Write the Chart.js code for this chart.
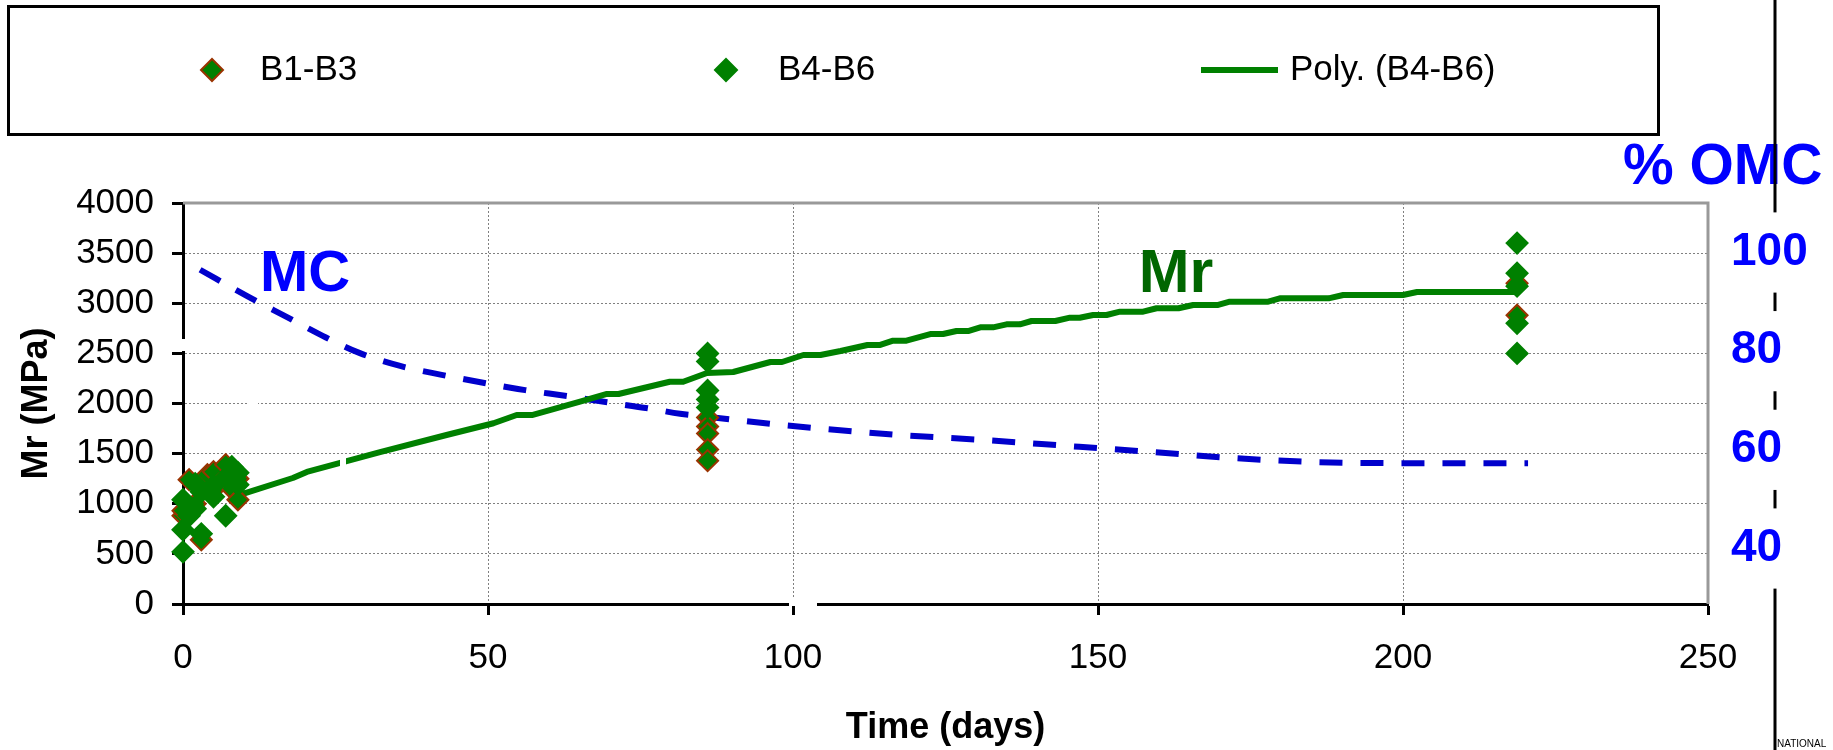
<!DOCTYPE html>
<html><head><meta charset="utf-8">
<script src="https://cdn.jsdelivr.net/npm/chart.js@4"></script>
<style>html,body{margin:0;padding:0;background:#fff}#wrap{width:1833px;height:750px}</style>
</head><body><div id="wrap"><canvas id="c" width="1833" height="750"></canvas></div>
<script>
// ---- data ----
const seriesNames = ['B1-B3', 'B4-B6', 'Poly. (B4-B6)', 'MC'];
const b13Days = [0, 0, 1, 2, 3, 3, 4, 5, 6, 7, 8, 9, 9, 86, 86, 86, 86, 86, 218.7, 218.7];
const b13Mr   = [880, 930, 1240, 1000, 640, 1180, 1290, 1320, 1200, 1390, 1150, 1040, 1250, 1860, 1770, 1700, 1540, 1430, 3200, 2880];
const b46Days = [0, 0, 0, 1, 2, 2, 3, 3, 5, 5, 7, 7, 8, 8, 9, 9, 86, 86, 86, 86, 86, 218.7, 218.7, 218.7, 218.7, 218.7];
const b46Mr   = [520, 740, 1040, 880, 1200, 950, 700, 1120, 1070, 1180, 880, 1260, 1370, 1240, 1190, 1310, 2500, 2420, 2130, 2040, 1960, 3600, 3300, 3170, 2800, 2500];
const polyDays = [9, 10.2, 18.0, 20.3, 32.3, 43.2, 50.9, 54.7, 57.2, 65.1, 69.5, 71.4, 79.8, 82.0, 85.9, 90.2, 96.3, 98.2, 101.7, 104.5, 107.8, 112.2, 114.3, 116.4, 118.6, 122.5, 124.6, 126.8, 128.7, 130.7, 132.8, 135.0, 137.2, 139.1, 143.0, 145.4, 147.0, 149.2, 151.4, 153.6, 157.4, 159.6, 163.2, 165.6, 169.7, 171.6, 177.9, 179.8, 187.8, 190.2, 200.0, 202.3, 218.7];
const polyMr   = [1090, 1107, 1257, 1317, 1515, 1686, 1803, 1885, 1885, 2018, 2095, 2095, 2217, 2217, 2304, 2314, 2414, 2414, 2484, 2484, 2524, 2584, 2584, 2627, 2627, 2693, 2693, 2723, 2723, 2760, 2760, 2790, 2790, 2823, 2823, 2856, 2856, 2883, 2883, 2916, 2916, 2950, 2950, 2983, 2983, 3016, 3016, 3049, 3049, 3082, 3082, 3112, 3112];
const mcDays = [2.8, 10.6, 16.9, 22.9, 29.0, 35.6, 42.4, 49.2, 56.1, 62.9, 69.7, 76.3, 81.5, 85.9, 98.4, 117.5, 131.2, 144.9, 158.5, 172.5, 186.1, 200, 220.5];
const mcOMC  = [96.4, 91.0, 86.9, 83.0, 79.5, 76.9, 75.1, 73.5, 72.0, 70.8, 69.5, 68.3, 67.2, 66.6, 64.9, 62.9, 61.9, 60.7, 59.5, 58.2, 57.4, 57.2, 57.2];
const xTicks = [0, 50, 100, 150, 200, 250];
const yTicks = [0, 500, 1000, 1500, 2000, 2500, 3000, 3500, 4000];
const omcTicks = [40, 60, 80, 100];
const xTitle = 'Time (days)';
const yTitle = 'Mr (MPa)';
const omcTitle = '% OMC';
const mcLabel = 'MC';
const mrLabel = 'Mr';

// ---- chart ----
const FONT = "'Liberation Sans', Arial, sans-serif";
const GREEN = '#008000', BROWN = '#993300', BLUE = '#0000FF', DBLUE = '#0000CC';
const pts = (xs, ys) => xs.map((x, i) => ({x: x, y: ys[i]}));

const overlay = {
  id: 'overlay',
  beforeDraw(chart) {
    const ctx = chart.ctx;
    ctx.save();
    ctx.fillStyle = '#fff';
    ctx.fillRect(0, 0, chart.width, chart.height);
    // % OMC title
    ctx.fillStyle = BLUE;
    ctx.font = 'bold 57px ' + FONT;
    ctx.textAlign = 'left';
    ctx.textBaseline = 'middle';
    ctx.fillText(omcTitle, 1623, 168);
    // secondary axis line
    ctx.strokeStyle = '#000';
    ctx.lineWidth = 3;
    ctx.beginPath(); ctx.moveTo(1775, 0); ctx.lineTo(1775, 750); ctx.stroke();
    // legend box
    ctx.lineWidth = 3;
    ctx.strokeRect(8.5, 6.5, 1650, 128);
    const ds = chart.data.datasets;
    const ly = 70;
    const items = [{mx: 212, tx: 260, d: ds[0]}, {mx: 726, tx: 778, d: ds[1]}];
    ctx.font = '35px ' + FONT;
    for (const it of items) {
      const r = it.d.pointRadius + 0.5;
      ctx.beginPath();
      ctx.moveTo(it.mx - r, ly); ctx.lineTo(it.mx, ly - r); ctx.lineTo(it.mx + r, ly); ctx.lineTo(it.mx, ly + r); ctx.closePath();
      ctx.fillStyle = it.d.pointBackgroundColor; ctx.fill();
      ctx.lineWidth = it.d.pointBorderWidth; ctx.strokeStyle = it.d.pointBorderColor; ctx.stroke();
      ctx.fillStyle = '#000';
      ctx.fillText(it.d.label, it.tx, ly);
    }
    ctx.strokeStyle = ds[2].borderColor; ctx.lineWidth = ds[2].borderWidth;
    ctx.beginPath(); ctx.moveTo(1201, ly); ctx.lineTo(1278, ly); ctx.stroke();
    ctx.fillStyle = '#000';
    ctx.fillText(ds[2].label, 1290, ly);
    // stray caption at bottom right
    ctx.font = '10px ' + FONT;
    ctx.fillText('NATIONAL', 1777, 744);
    ctx.restore();
  },
  beforeDatasetsDraw(chart) {
    const ctx = chart.ctx, a = chart.chartArea;
    ctx.save();
    ctx.strokeStyle = '#999';
    ctx.lineWidth = 3;
    ctx.beginPath();
    ctx.moveTo(a.left, a.top); ctx.lineTo(a.right, a.top); ctx.lineTo(a.right, a.bottom);
    ctx.stroke();
    ctx.restore();
  },
  afterDatasetsDraw(chart) {
    const ctx = chart.ctx;
    ctx.save();
    // small white erasures present in the source figure
    ctx.fillStyle = '#fff';
    ctx.fillRect(179, 339, 9, 12);
    ctx.fillRect(248, 399, 10, 6);
    ctx.fillRect(340, 456, 6, 13);
    ctx.fillRect(789, 598, 28, 8);
    ctx.textAlign = 'center';
    ctx.textBaseline = 'middle';
    ctx.font = 'bold 58px ' + FONT;
    ctx.fillStyle = BLUE;
    ctx.fillText(mcLabel, 305, 275);
    ctx.fillStyle = '#006600';
    ctx.font = 'bold 61px ' + FONT;
    ctx.fillText(mrLabel, 1176, 275);
    ctx.restore();
  }
};

const gridCommon = {
  color: '#808080', lineWidth: 1, tickLength: 11, tickWidth: 3, tickColor: '#000', tickBorderDash: []
};
const plain = v => String(v);

new Chart(document.getElementById('c'), {
  type: 'scatter',
  data: {
    datasets: [
      {label: seriesNames[0], data: pts(b13Days, b13Mr), pointStyle: 'rectRot', pointRadius: 10.5, pointHoverRadius: 10.5,
       pointBackgroundColor: GREEN, pointBorderColor: BROWN, pointBorderWidth: 2, clip: false, order: 2},
      {label: seriesNames[1], data: pts(b46Days, b46Mr), pointStyle: 'rectRot', pointRadius: 10.5, pointHoverRadius: 10.5,
       pointBackgroundColor: GREEN, pointBorderColor: GREEN, pointBorderWidth: 2, clip: false, order: 1},
      {label: seriesNames[2], data: pts(polyDays, polyMr), showLine: true, borderColor: GREEN, borderWidth: 6,
       pointRadius: 0, tension: 0, borderJoinStyle: 'round', order: 3},
      {label: seriesNames[3], data: pts(mcDays, mcOMC), yAxisID: 'y2', showLine: true, borderColor: DBLUE, borderWidth: 6,
       borderDash: [23, 18], borderCapStyle: 'butt', pointRadius: 0, cubicInterpolationMode: 'monotone', order: 4}
    ]
  },
  options: {
    responsive: false, animation: false, devicePixelRatio: 1,
    layout: {padding: {top: 203, left: 0, right: 0, bottom: 0}},
    plugins: {legend: {display: false}, tooltip: {enabled: false}},
    scales: {
      x: {
        type: 'linear', position: 'bottom', min: 0, max: 250,
        afterBuildTicks: s => { s.ticks = xTicks.map(v => ({value: v})); },
        grid: gridCommon,
        border: {display: true, color: '#000', width: 3, dash: [2, 2]},
        ticks: {font: {family: FONT, size: 35}, color: '#000', padding: 22, maxRotation: 0, callback: plain},
        title: {display: true, text: xTitle, color: '#000', font: {family: FONT, size: 36, weight: 'bold'}, padding: {top: 0, bottom: 0}},
        afterFit: s => { s.height = 146; }
      },
      y: {
        type: 'linear', position: 'left', min: 0, max: 4000,
        afterBuildTicks: s => { s.ticks = yTicks.map(v => ({value: v})); },
        grid: gridCommon,
        border: {display: true, color: '#000', width: 3, dash: [2, 2]},
        ticks: {font: {family: FONT, size: 35}, color: '#000', padding: 18, callback: plain},
        title: {display: true, text: yTitle, color: '#000', font: {family: FONT, size: 36, weight: 'bold'}, padding: {top: 15, bottom: 0}},
        afterFit: s => { s.width = 183; }
      },
      y2: {
        type: 'linear', position: 'right', min: 28.65, max: 109.93,
        afterBuildTicks: s => { s.ticks = omcTicks.map(v => ({value: v})); },
        grid: {display: false, drawTicks: false, drawOnChartArea: false},
        border: {display: false},
        ticks: {font: {family: FONT, size: 46, weight: 'bold'}, color: BLUE, padding: 23, callback: plain,
                showLabelBackdrop: true, backdropColor: '#fff', backdropPadding: {top: 12, bottom: 13, left: 0, right: 2}},
        afterFit: s => { s.width = 125; }
      }
    }
  },
  plugins: [overlay]
});
</script>
</body></html>
